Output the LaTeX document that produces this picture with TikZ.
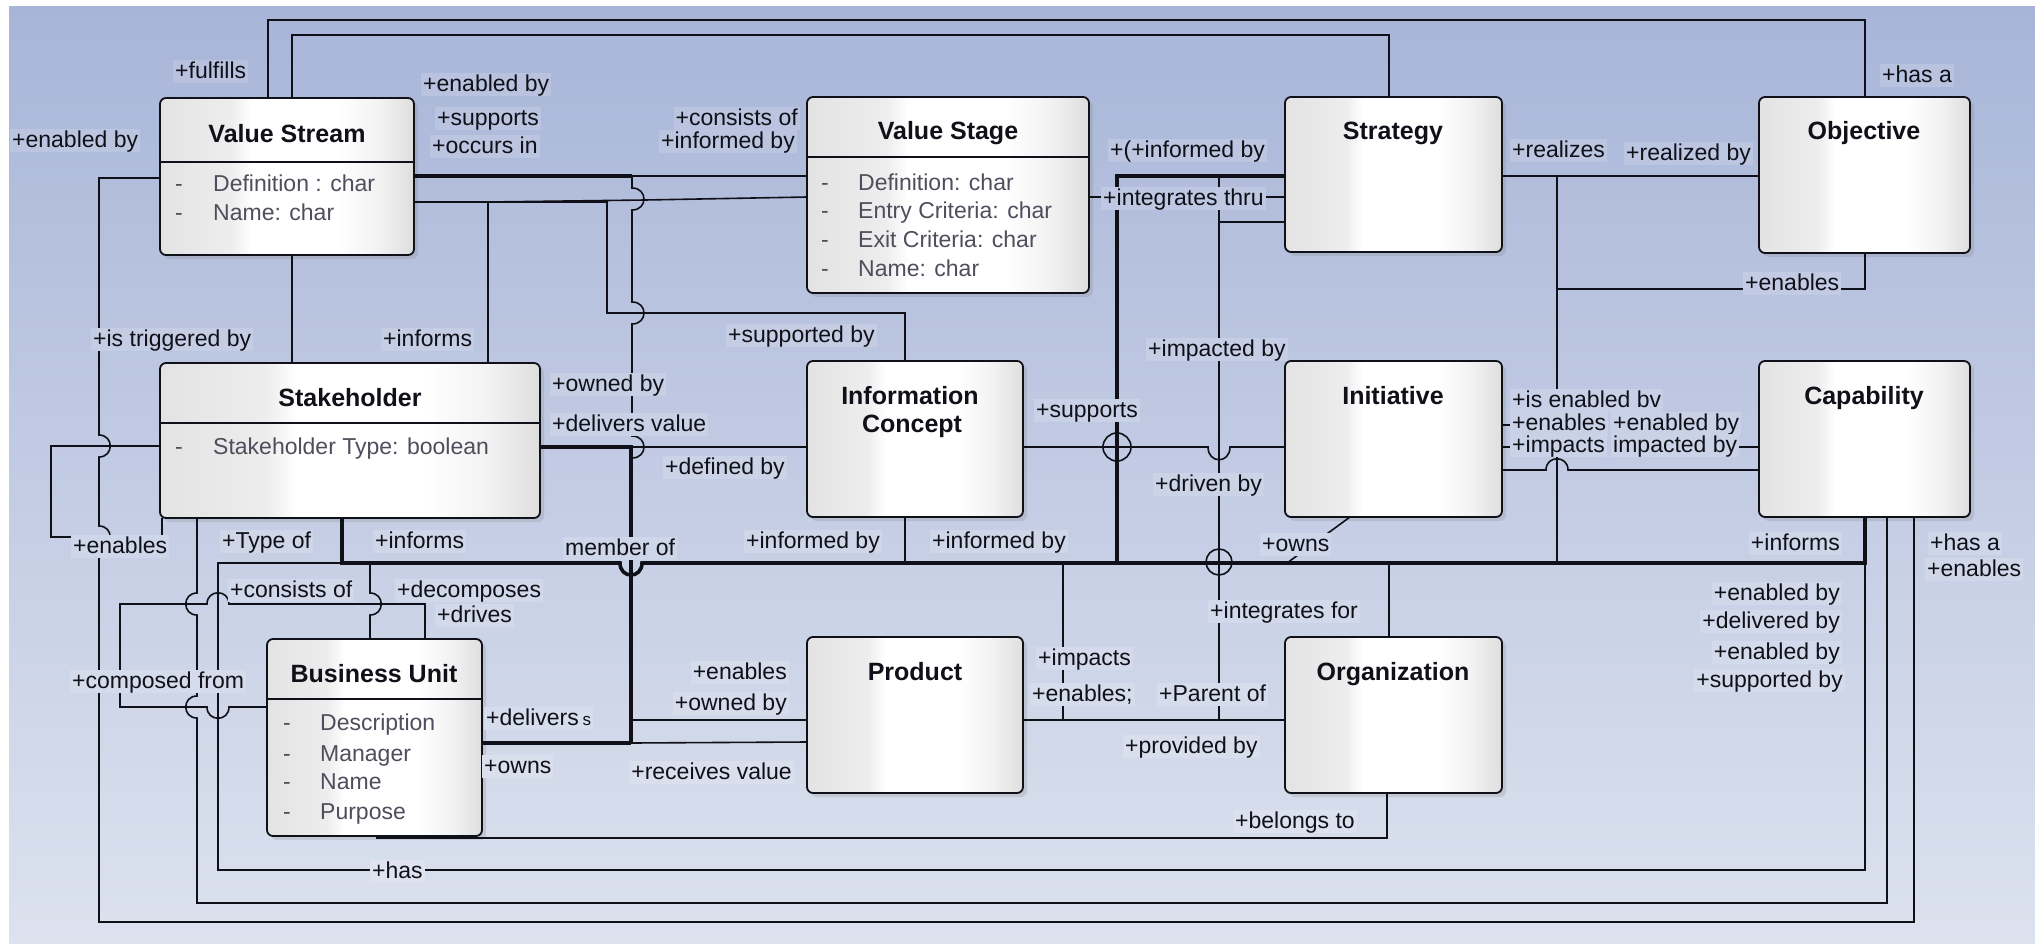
\documentclass[tikz,border=0pt]{standalone}
\usepackage{fontspec}
\setmainfont{Liberation Sans}
\usetikzlibrary{shadows}
\definecolor{bgT}{RGB}{168,181,216}
\definecolor{bgB}{RGB}{220,226,238}
\definecolor{ink}{RGB}{16,16,24}
\definecolor{attrc}{RGB}{78,78,92}
\pgfdeclarehorizontalshading{boxsh}{100bp}{color(0bp)=(black!11); color(25bp)=(black!11); color(39bp)=(black!7); color(43bp)=(white); color(60bp)=(white); color(68bp)=(black!5); color(75bp)=(black!13); color(100bp)=(black!13)}
\newcounter{lblc}
\newcommand\jmpVD[3]{-- (#1,{#2-11}) .. controls ({#1+(#3)},{#2-11}) and ({#1+(#3)},{#2+11}) .. (#1,{#2+11})}
\newcommand\jmpHR[3]{-- ({#1-11},#2) .. controls ({#1-11},{#2+(#3)}) and ({#1+11},{#2+(#3)}) .. ({#1+11},#2)}
\newcommand\jmpHL[3]{-- ({#1+11},#2) .. controls ({#1+11},{#2+(#3)}) and ({#1-11},{#2+(#3)}) .. ({#1-11},#2)}
\newcommand\umlbox[5]{\node[umlboxst, minimum width={(#4-#2)*1pt}, minimum height={(#5-#3)*1pt}] (#1) at ({(#2+#4)/2},{(#3+#5)/2}) {};}
\newcommand\ttl[4]{\node[ttlst] (#1) at (#2,{#3+9}) {#4};}
\newcommand\att[5]{\node[attst] (#1d) at (#2,{#4+8}) {-};\node[attst] (#1) at (#3,{#4+8}) {#5};}
\newcommand\lab[4][base west]{\stepcounter{lblc}\pgfmathtruncatemacro\bgp{(#3-6)/9.37}\node[lblst,anchor=#1,fill=bgB!\bgp!bgT!85!white] (L\thelblc) at (#2,{#3+8}) {#4};}
\begin{document}
\begin{tikzpicture}[x=1pt,y=-1pt,
  umlboxst/.style={draw=ink, line width=1.8pt, rounded corners=6pt, shading=boxsh, drop shadow={shadow xshift=4pt,shadow yshift=-4pt,opacity=0.22}, inner sep=0pt, outer sep=0pt},
  ttlst/.style={anchor=base, inner sep=0pt, text=ink, font=\bfseries\fontsize{25}{30}\selectfont},
  attst/.style={anchor=base west, inner sep=0pt, text=attrc, font=\fontsize{23}{28}\selectfont},
  lblst/.style={text=ink, font=\fontsize{23}{28}\selectfont, inner xsep=2pt, inner ysep=1pt, text height=17pt, text depth=4pt},
  ln/.style={draw=ink, line width=1.6pt},
  thk/.style={draw=ink, line width=3.6pt},
  sepl/.style={draw=ink, line width=1.6pt}]
\useasboundingbox (0,0) rectangle (2035,943);
\fill[white] (0,0) rectangle (2035,943);
\fill[top color=bgT, bottom color=bgB] (9,6) rectangle (2035,943);

% boxes
\umlbox{vs}{160}{98}{414}{255}
\umlbox{vstage}{807}{97}{1089}{293}
\umlbox{strat}{1285}{97}{1502}{252}
\umlbox{obj}{1759}{97}{1970}{253}
\umlbox{stake}{160}{363}{540}{518}
\umlbox{ic}{807}{361}{1023}{517}
\umlbox{init}{1285}{361}{1502}{517}
\umlbox{cap}{1759}{361}{1970}{517}
\umlbox{bu}{267}{639}{482}{836}
\umlbox{prod}{807}{637}{1023}{793}
\umlbox{org}{1285}{637}{1502}{793}

\draw[sepl] (vs.west |- 0,162) -- (vs.east |- 0,162);
\draw[sepl] (vstage.west |- 0,157) -- (vstage.east |- 0,157);
\draw[sepl] (stake.west |- 0,423) -- (stake.east |- 0,423);
\draw[sepl] (bu.west |- 0,699) -- (bu.east |- 0,699);

% connectors
\draw[ln] (vs.north -| 268,0) -- (268,20) -- (1865,20) -- (obj.north -| 1865,0);
\draw[ln] (vs.north -| 292,0) -- (292,35) -- (1389,35) -- (strat.north -| 1389,0);
\draw[ln] (vs.east |- 0,176) -- (vstage.west |- 0,176);
\draw[thk] (vs.east |- 0,176) -- (632,176);
\draw[ln] (632,176) \jmpVD{632}{199}{16} \jmpVD{632}{313}{16} \jmpVD{632}{447}{16};
\draw[ln] (stake.east |- 0,447) -- (ic.west |- 0,447);
\draw[thk] (stake.east |- 0,447) -- (631,447) -- (631,743);
\draw[ln] (631,720) -- (prod.west |- 0,720);
\draw[thk] (bu.east |- 0,743) -- (631,743);
\draw[ln] (631,743) -- (prod.west |- 0,742);
\draw[ln] (vs.east |- 0,202) -- (607,202) -- (607,313) -- (905,313) -- (ic.north -| 905,0);
\draw[ln] (stake.north -| 488,0) -- (488,202) -- (645,200) -- (vstage.west |- 0,197);
\draw[ln] (vs.south -| 292,0) -- (stake.north -| 292,0);
\draw[ln] (vs.west |- 0,178) -- (99,178) \jmpVD{99}{446}{15} \jmpVD{99}{537}{15} -- (99,922) -- (1914,922) -- (cap.south -| 1914,0);
\draw[ln] (stake.west |- 0,446) -- (51,446) -- (51,537) -- (162,537) -- (stake.south -| 162,0);
\draw[ln] (stake.south -| 197,0) \jmpVD{197}{604}{-15} \jmpVD{197}{707}{-15} -- (197,903) -- (1887,903) -- (cap.south -| 1887,0);
\draw[thk] (stake.south -| 342,0) -- (342,563) \jmpHR{631}{563}{16} -- (1865,563) -- (cap.south -| 1865,0);
\draw[ln] (342,563) -- (218,563) -- (218,870) -- (1865,870);
\draw[draw=ink, line width=2.4pt] (1865,563) -- (1865,871);
\draw[ln] (bu.north -| 425,0) -- (425,604) \jmpHL{218}{604}{-15} -- (120,604) -- (120,707) \jmpHR{218}{707}{15} -- (bu.west |- 0,707);
\draw[ln] (370,563) \jmpVD{370}{604}{15} -- (bu.north -| 370,0);
\draw[ln] (bu.south -| 377,0) -- (377,838) -- (1387,838) -- (org.south -| 1387,0);
\draw[ln] (ic.south -| 905,0) -- (905,563);
\draw[ln] (ic.east |- 0,447) \jmpHR{1219}{447}{17} -- (init.west |- 0,447);
\draw[ln] (1117,447) circle[radius=14pt];
\draw[thk] (1117,563) -- (1117,176) -- (strat.west |- 0,176);
\draw[ln] (vstage.east |- 0,197) -- (strat.west |- 0,197);
\draw[ln] (strat.west |- 0,222) -- (1219,222);
\draw[ln] (1219,176) -- (1219,720);
\draw[ln] (1219,562) circle[radius=13pt];
\draw[ln] (prod.east |- 0,720) -- (org.west |- 0,720);
\draw[ln] (1063,563) -- (1063,720);
\draw[ln] (1389,563) -- (org.north -| 1389,0);
\draw[ln] (init.south -| 1350,0) -- (1287,563);
\draw[ln] (strat.east |- 0,176) -- (obj.west |- 0,176);
\draw[ln] (1557,176) -- (1557,563);
\draw[ln] (init.east |- 0,470) \jmpHR{1557}{470}{-15} -- (cap.west |- 0,470);
\draw[ln] (obj.south -| 1865,0) -- (1865,289) -- (1557,289);
\draw[ln] (init.east |- 0,425) -- (1540,425);
\draw[ln] (init.east |- 0,447) -- (1530,447);
\draw[ln] (1720,447) -- (cap.west |- 0,447);

% titles
\ttl{tvs}{287}{133}{Value Stream}
\ttl{tvst}{948}{130}{Value Stage}
\ttl{tst}{1393}{130}{Strategy}
\ttl{tob}{1864}{130}{Objective}
\ttl{tsh}{350}{397}{Stakeholder}
\ttl{tic1}{910}{395}{Information}
\ttl{tic2}{912}{423}{Concept}
\ttl{tin}{1393}{395}{Initiative}
\ttl{tca}{1864}{395}{Capability}
\ttl{tbu}{374}{673}{Business Unit}
\ttl{tpr}{915}{671}{Product}
\ttl{tor}{1393}{671}{Organization}

% attributes
\att{a1}{175}{213}{183}{Definition : char}
\att{a2}{175}{213}{212}{Name: char}
\att{a3}{821}{858}{182}{Definition: char}
\att{a4}{821}{858}{210}{Entry Criteria: char}
\att{a5}{821}{858}{239}{Exit Criteria: char}
\att{a6}{821}{858}{268}{Name: char}
\att{a7}{175}{213}{446}{Stakeholder Type: boolean}
\att{a8}{283}{320}{722}{Description}
\att{a9}{283}{320}{753}{Manager}
\att{a10}{283}{320}{781}{Name}
\att{a11}{283}{320}{811}{Purpose}

% labels
\lab{173}{70}{+fulfills}
\lab{10}{139}{+enabled by}
\lab{421}{83}{+enabled by}
\lab{435}{117}{+supports}
\lab{430}{145}{+occurs in}
\lab[base east]{800}{117}{+consists of}
\lab[base east]{797}{140}{+informed by}
\lab{1108}{149}{+(+informed by}
\lab{1101}{197}{+integrates thru}
\lab{1510}{149}{+realizes}
\lab{1624}{152}{+realized by}
\lab{1880}{74}{+has a}
\lab{1743}{282}{+enables}
\lab{91}{338}{+is triggered by}
\lab{381}{338}{+informs}
\lab{726}{334}{+supported by}
\lab{550}{383}{+owned by}
\lab{550}{423}{+delivers value}
\lab{663}{466}{+defined by}
\lab{1034}{409}{+supports}
\lab{1146}{348}{+impacted by}
\lab{1153}{483}{+driven by}
\lab{1510}{399}{+is enabled bv}
\lab{1510}{422}{+enables}
\lab{1510}{444}{+impacts}
\lab{1611}{422}{+enabled by}
\lab{1611}{444}{impacted by}
\lab{71}{545}{+enables}
\lab{220}{540}{+Type of}
\lab{373}{540}{+informs}
\lab{563}{547}{member of}
\lab[base east]{882}{540}{+informed by}
\lab{930}{540}{+informed by}
\lab{1260}{543}{+owns}
\lab[base east]{1842}{542}{+informs}
\lab{1928}{542}{+has a}
\lab{1925}{568}{+enables}
\lab{228}{589}{+consists of}
\lab{395}{589}{+decomposes}
\lab{435}{614}{+drives}
\lab[base east]{1842}{592}{+enabled by}
\lab[base east]{1842}{620}{+delivered by}
\lab[base east]{1842}{651}{+enabled by}
\lab[base east]{1845}{679}{+supported by}
\lab{70}{680}{+composed from}
\lab[base east]{789}{671}{+enables}
\lab[base east]{789}{702}{+owned by}
\lab{484}{717}{+delivers\,{\fontsize{17}{17}\selectfont s}}
\lab{482}{765}{+owns}
\lab[base east]{794}{771}{+receives value}
\lab{1036}{657}{+impacts}
\lab{1030}{693}{+enables;}
\lab{1157}{693}{+Parent of}
\lab{1123}{745}{+provided by}
\lab{1208}{610}{+integrates for}
\lab{1233}{820}{+belongs to}
\lab{370}{870}{+has}
\end{tikzpicture}
\end{document}
